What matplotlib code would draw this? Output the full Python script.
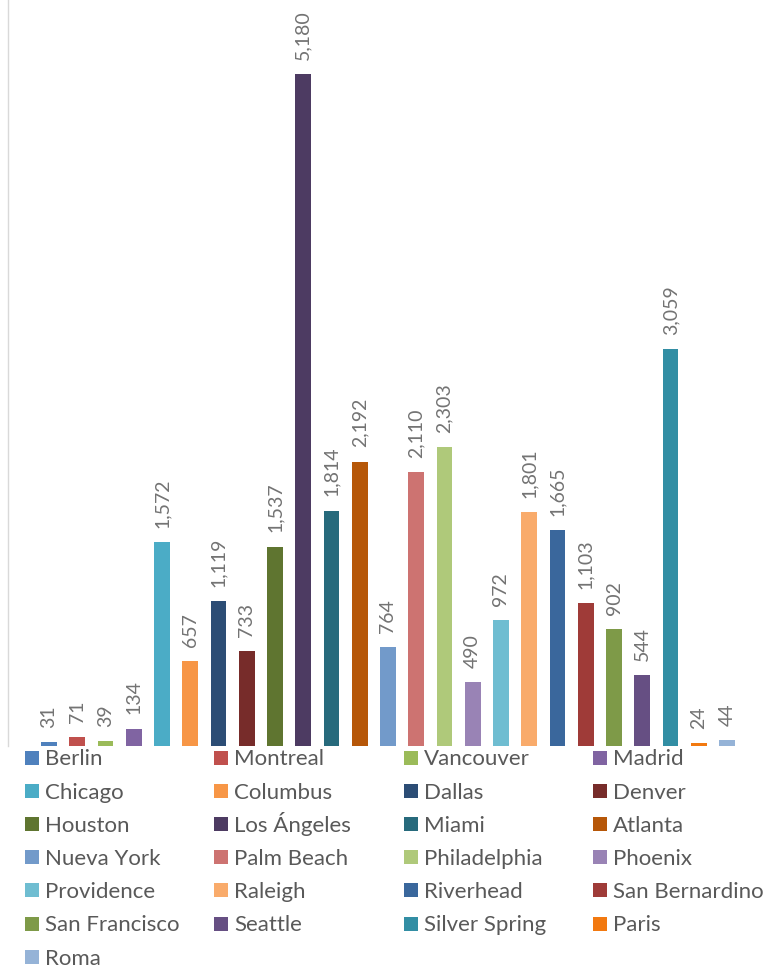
import matplotlib
matplotlib.use("Agg")
import matplotlib.pyplot as plt
from matplotlib.patches import Rectangle

cities = ["Berlin", "Montreal", "Vancouver", "Madrid", "Chicago", "Columbus", "Dallas",
          "Denver", "Houston", "Los Ángeles", "Miami", "Atlanta", "Nueva York", "Palm Beach",
          "Philadelphia", "Phoenix", "Providence", "Raleigh", "Riverhead", "San Bernardino",
          "San Francisco", "Seattle", "Silver Spring", "Paris", "Roma"]
values = [31, 71, 39, 134, 1572, 657, 1119, 733, 1537, 5180, 1814, 2192, 764, 2110,
          2303, 490, 972, 1801, 1665, 1103, 902, 544, 3059, 24, 44]
colors = ["#4F81BD", "#C0504D", "#9BBB59", "#8064A2", "#4BACC6", "#F79646", "#2C4D75",
          "#772C2A", "#5F7530", "#4D3B62", "#276A7C", "#B65708", "#729ACA", "#CD7371",
          "#AFC97A", "#9983B5", "#6FBDD1", "#F9AB6B", "#3A679C", "#9F3B38", "#7E9A48",
          "#664F83", "#328EA4", "#F27910", "#95B3D7"]

plt.rcParams['font.family'] = ['Lato', 'DejaVu Sans']
text_color = "#595959"
label_color = "#737373"

W, H = 766, 970
fig = plt.figure(figsize=(W / 100, H / 100), dpi=100)
ax = fig.add_axes([8 / W, 1 - 747 / H, 1 - 8 / W, 747 / H])

x = list(range(len(values)))
ax.bar(x, values, width=0.56, color=colors)
for xi, v in zip(x, values):
    ax.annotate(f"{v:,}", (xi, v), xytext=(0, 11), textcoords="offset points",
                rotation=90, ha="center", va="bottom", fontsize=14, color=label_color)

ax.set_xlim(-1.45, 25.38)
ax.set_ylim(0, 5760)
for s in ["top", "right", "bottom"]:
    ax.spines[s].set_visible(False)
ax.spines["left"].set_color("#D9D9D9")
ax.spines["left"].set_linewidth(1.0)
ax.set_xticks([])
ax.set_yticks([])

# Legend laid out row by row (4 columns) as in the reference
ncol = 4
col_x0, col_pitch = 25, 189.3
row_y0, row_pitch = 758.5, 33.2
sq = 14
for i, (name, c) in enumerate(zip(cities, colors)):
    r, cidx = divmod(i, ncol)
    px = col_x0 + cidx * col_pitch
    py = row_y0 + r * row_pitch
    fig.patches.append(Rectangle((px / W, 1 - (py + sq / 2) / H), sq / W, sq / H,
                                 transform=fig.transFigure, facecolor=c, edgecolor="none"))
    fig.text((px + sq + 6) / W, 1 - (py + 7) / H, name, ha="left", va="baseline",
             fontsize=16, color=text_color)

fig.savefig("out.png", dpi=100)
